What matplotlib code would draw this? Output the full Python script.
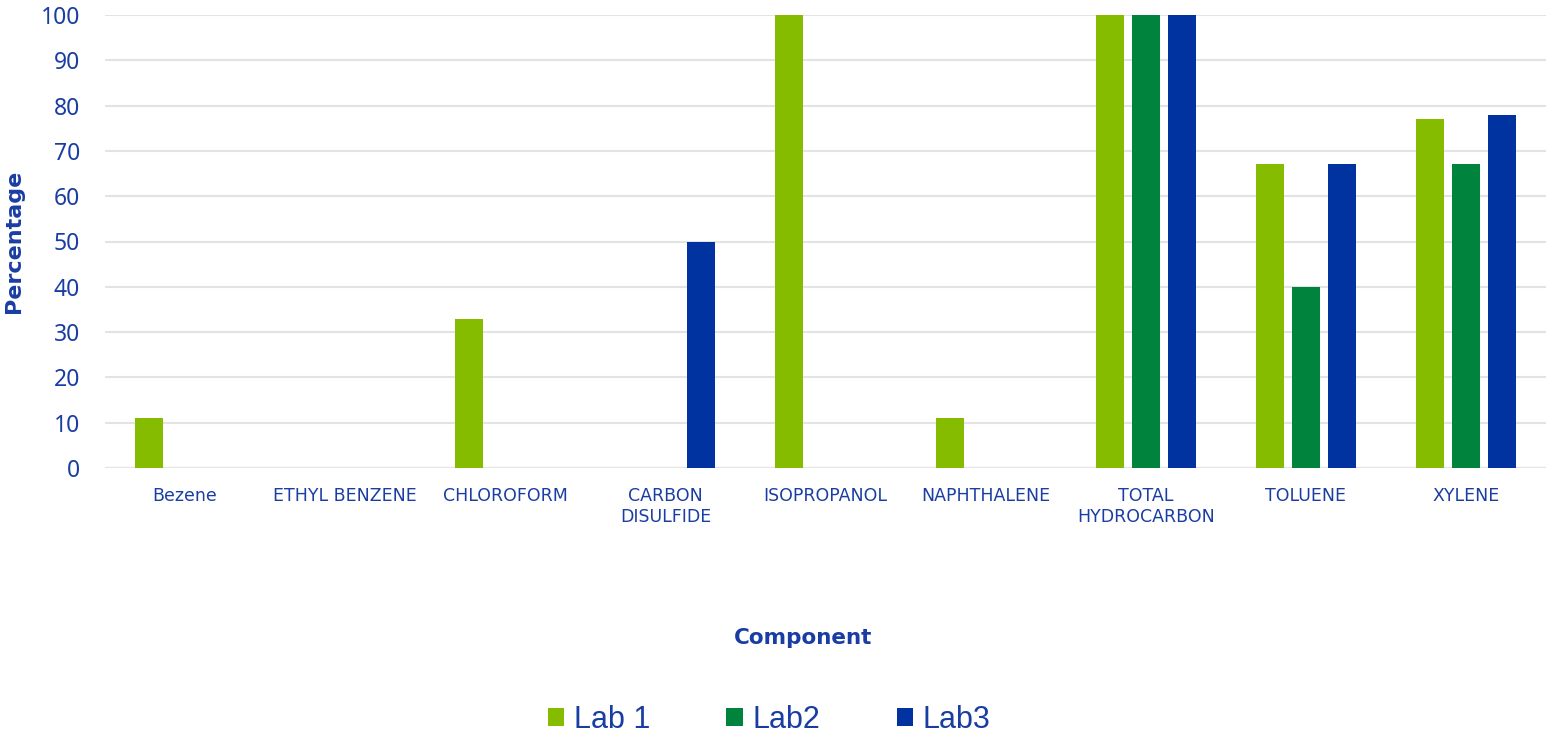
import matplotlib
matplotlib.use("Agg")
import matplotlib.pyplot as plt
import numpy as np

components = ["Bezene", "ETHYL BENZENE", "CHLOROFORM", "CARBON\nDISULFIDE",
              "ISOPROPANOL", "NAPHTHALENE", "TOTAL\nHYDROCARBON", "TOLUENE", "XYLENE"]
lab1 = [11, 0, 33, 0, 100, 11, 100, 67, 77]
lab2 = [0, 0, 0, 0, 0, 0, 100, 40, 67]
lab3 = [0, 0, 0, 50, 0, 0, 100, 67, 78]
series = ["Lab 1", "Lab2", "Lab3"]
colors = ["#86bc00", "#00843d", "#0033a0"]
yticks = np.arange(0, 101, 10)

text_color = "#1a3da3"
grid_color = "#e3e3e3"

fig = plt.figure(figsize=(15.46, 7.37), dpi=100)
ax = fig.add_axes((105 / 1546, 1 - 468 / 737, 1 - 105 / 1546, (468 - 15) / 737))

x = np.arange(len(components))
width = 0.175
step = 0.225
for i, (vals, name, c) in enumerate(zip([lab1, lab2, lab3], series, colors)):
    ax.bar(x + (i - 1) * step, vals, width, color=c, label=name, zorder=3)

ax.set_xlim(-0.5, len(components) - 0.5)
ax.set_ylim(0, 100)
ax.set_yticks(yticks)
ax.set_xticks(x)
ax.set_xticklabels(components, fontsize=12.5, color=text_color,
                   family="DejaVu Sans", linespacing=1.15)
ax.tick_params(axis="x", length=0, pad=14)
ax.tick_params(axis="y", length=0, pad=18, labelsize=16.5, labelcolor=text_color)
for lbl in ax.get_yticklabels():
    lbl.set_family("Noto Sans")

ax.grid(axis="y", color=grid_color, linewidth=1.5, zorder=0)
for s in ax.spines.values():
    s.set_visible(False)
ax.axhline(0, color=grid_color, linewidth=1.5, zorder=1)

ax.set_ylabel("Percentage", fontsize=16, fontweight="bold", color=text_color)
ax.yaxis.set_label_coords(-(105 - 24) / 1441, 0.5)

fig.text(803 / 1546, 1 - 638 / 737, "Component", fontsize=15.5, fontweight="bold",
         color=text_color, ha="center", va="center")

leg = fig.legend(loc="center", bbox_to_anchor=(769 / 1546, 1 - 720 / 737), ncol=3,
                 frameon=False, prop={"family": "Liberation Sans", "size": 22},
                 handlelength=0.55, handleheight=0.55, handletextpad=0.3,
                 columnspacing=2.5)
for t in leg.get_texts():
    t.set_color(text_color)

fig.savefig("out.png", dpi=100)
